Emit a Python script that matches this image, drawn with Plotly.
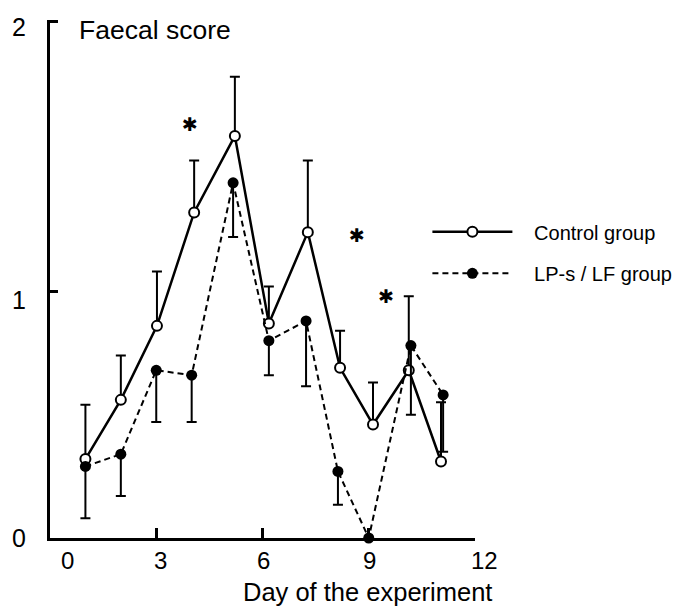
import plotly.graph_objects as go

# ---- data ----
ctrl_days = [1.0, 2.0, 3.02, 4.07, 5.22, 6.18, 7.28, 8.19, 9.12, 10.13, 11.04]
ctrl_score = [0.32, 0.56, 0.86, 1.32, 1.63, 0.87, 1.24, 0.69, 0.46, 0.68, 0.31]
ctrl_err = [0.22, 0.18, 0.22, 0.21, 0.24, 0.15, 0.29, 0.15, 0.17, 0.30, 0.24]

lp_days = [1.0, 2.0, 3.0, 4.0, 5.17, 6.18, 7.23, 8.13, 9.0, 10.19, 11.1]
lp_score = [0.29, 0.34, 0.68, 0.66, 1.44, 0.80, 0.88, 0.27, 0.0, 0.78, 0.58]
lp_err = [0.21, 0.17, 0.21, 0.19, 0.22, 0.14, 0.265, 0.135, 0.0, 0.28, 0.23]

star_days = [3.95, 8.67, 9.49]
star_score = [1.67, 1.22, 0.97]

x_tick_vals = [3, 6, 9, 12]
x_label_text = ["0", "3", "6", "9", "12"]
x_label_pos = [0.04, 0.26, 0.502, 0.751, 1.023]   # paper fraction of the x axis
y_tick_vals = [1, 2.095]
y_label_text = ["2", "1", "0"]
y_label_pos = [2.07, 0.965, 0.0]

FONT = "Arial, Liberation Sans, sans-serif"
PAD = "\u00a0\u00a0\u00a0"

fig = go.Figure()

fig.add_trace(go.Scatter(
    x=ctrl_days, y=ctrl_score, mode="lines+markers", name=PAD + "Control group",
    line=dict(color="black", width=2.5),
    marker=dict(symbol="circle", size=10, color="white", line=dict(color="black", width=2)),
    error_y=dict(type="data", symmetric=False, array=ctrl_err, arrayminus=[0] * len(ctrl_err),
                 color="black", thickness=2, width=5),
    cliponaxis=False, legend="legend",
))

fig.add_trace(go.Scatter(
    x=lp_days, y=lp_score, mode="lines+markers", name=PAD + "LP-s / LF group",
    line=dict(color="black", width=2, dash="6px,4px"),
    marker=dict(symbol="circle", size=11, color="black"),
    error_y=dict(type="data", symmetric=False, array=[0] * len(lp_err), arrayminus=lp_err,
                 color="black", thickness=2, width=5),
    cliponaxis=False, legend="legend2",
))

fig.add_trace(go.Scatter(
    x=star_days, y=star_score, mode="text", text=["✱"] * len(star_days),
    textfont=dict(size=19, color="black", family="DejaVu Sans"),
    showlegend=False, cliponaxis=False, hoverinfo="skip",
))

annotations = []
for t, p in zip(x_label_text, x_label_pos):
    annotations.append(dict(x=p, y=-0.0444, xref="paper", yref="paper", text=t, showarrow=False,
                            xanchor="center", yanchor="middle",
                            font=dict(size=24, family=FONT, color="black")))
for t, p in zip(y_label_text, y_label_pos):
    annotations.append(dict(x=-0.073, y=p, xref="paper", yref="y", text=t, showarrow=False,
                            xanchor="center", yanchor="middle",
                            font=dict(size=25, family=FONT, color="black")))
annotations.append(dict(x=0.746, y=-0.104, xref="paper", yref="paper", text="Day of the experiment",
                        showarrow=False, xanchor="center", yanchor="middle",
                        font=dict(size=25.5, family=FONT, color="black")))
annotations.append(dict(x=0.063, y=0.98, xref="paper", yref="paper", text="Faecal score",
                        showarrow=False, xanchor="left", yanchor="middle",
                        font=dict(size=26.5, family=FONT, color="black")))

fig.update_layout(
    width=681, height=607,
    margin=dict(l=50, r=206, t=20, b=69, autoexpand=False),
    plot_bgcolor="white", paper_bgcolor="white",
    font=dict(family=FONT, color="black"),
    annotations=annotations,
    legend=dict(x=0.888, y=0.591, xanchor="left", yanchor="middle", itemwidth=80,
                font=dict(size=20, family=FONT), bgcolor="rgba(0,0,0,0)"),
    legend2=dict(x=0.888, y=0.511, xanchor="left", yanchor="middle", itemwidth=80,
                 font=dict(size=20, family=FONT), bgcolor="rgba(0,0,0,0)"),
    xaxis=dict(range=[0, 12], showgrid=False, zeroline=False, showline=True, linecolor="black",
               linewidth=3, ticks="inside", tickvals=x_tick_vals, ticklen=10, tickwidth=2.5,
               tickcolor="black", showticklabels=False, fixedrange=True),
    yaxis=dict(range=[0, 2.1], showgrid=False, zeroline=False, showline=True, linecolor="black",
               linewidth=3, ticks="inside", tickvals=y_tick_vals, ticklen=8, tickwidth=2.5,
               tickcolor="black", showticklabels=False, fixedrange=True),
)

fig.write_html("out.html")
